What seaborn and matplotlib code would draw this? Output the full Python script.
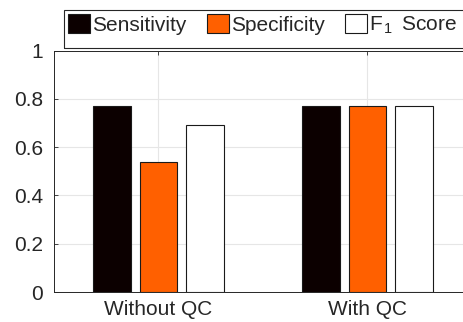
import matplotlib
matplotlib.use("Agg")
import matplotlib.pyplot as plt
from matplotlib.patches import Rectangle
import seaborn as sns
import pandas as pd

conditions = ["Without QC", "With QC"]
metrics = ["Sensitivity", "Specificity", "F$_{\\,1}\\,$ Score"]
sensitivity = [0.77, 0.77]
specificity = [0.54, 0.77]
f1_score = [0.69, 0.77]
colors = ["#0c0000", "#ff6000", "#ffffff"]
yticks = [0, 0.2, 0.4, 0.6, 0.8, 1]
ytick_labels = ["0", "0.2", "0.4", "0.6", "0.8", "1"]

sns.set_theme(style="white")
plt.rcParams["font.family"] = ["Liberation Sans", "DejaVu Sans"]
plt.rcParams["mathtext.fontset"] = "custom"
plt.rcParams["mathtext.rm"] = "Liberation Sans"
plt.rcParams["mathtext.it"] = "Liberation Sans"

rows = []
for i, c in enumerate(conditions):
    rows.append((c, metrics[0], sensitivity[i]))
    rows.append((c, metrics[1], specificity[i]))
    rows.append((c, metrics[2], f1_score[i]))
df = pd.DataFrame(rows, columns=["cond", "metric", "value"])

W, H = 464, 322
fig = plt.figure(figsize=(W / 100, H / 100), dpi=100)
ax = fig.add_axes([54 / W, 1 - 292 / H, 418 / W, (292 - 50.5) / H])

sns.barplot(data=df, x="cond", y="value", hue="metric", order=conditions,
            hue_order=metrics, palette=colors, width=0.667, gap=0.19,
            edgecolor="#1a1a1a", linewidth=0.8, saturation=1, ax=ax,
            err_kws={"linewidth": 0})

ax.set_xlim(-0.5, 1.5)
ax.set_ylim(0, 1)
ax.set_yticks(yticks)
ax.set_yticklabels(ytick_labels)
ax.set_xlabel("")
ax.set_ylabel("")
ax.set_axisbelow(True)
ax.grid(True, color="#e6e6e6", linewidth=0.8)
for s in ax.spines.values():
    s.set_color("#262626")
    s.set_linewidth(0.7)
ax.spines["right"].set_visible(False)
ax.tick_params(axis="both", direction="in", length=3, width=0.6,
               colors="#262626", labelsize=15, top=True, right=False,
               left=True, bottom=False)
ax.tick_params(axis="y", pad=8)
ax.tick_params(axis="x", pad=6)
for lab in ax.get_xticklabels() + ax.get_yticklabels():
    lab.set_color("#262626")

handles, labels = ax.get_legend_handles_labels()
ax.get_legend().remove()
leg = fig.legend(handles, labels, ncol=3, loc="center left",
                 bbox_to_anchor=(68 / W, 1 - 25 / H), fontsize=15,
                 frameon=False, handlelength=1.07, handleheight=1.05,
                 handletextpad=0.1, columnspacing=0.95, borderpad=0,
                 borderaxespad=0)
fig.add_artist(Rectangle((64 / W, 1 - 48 / H), 420 / W, 38.5 / H,
                         transform=fig.transFigure, fill=False,
                         edgecolor="#262626", linewidth=0.8))

fig.savefig("out.png", dpi=100)
